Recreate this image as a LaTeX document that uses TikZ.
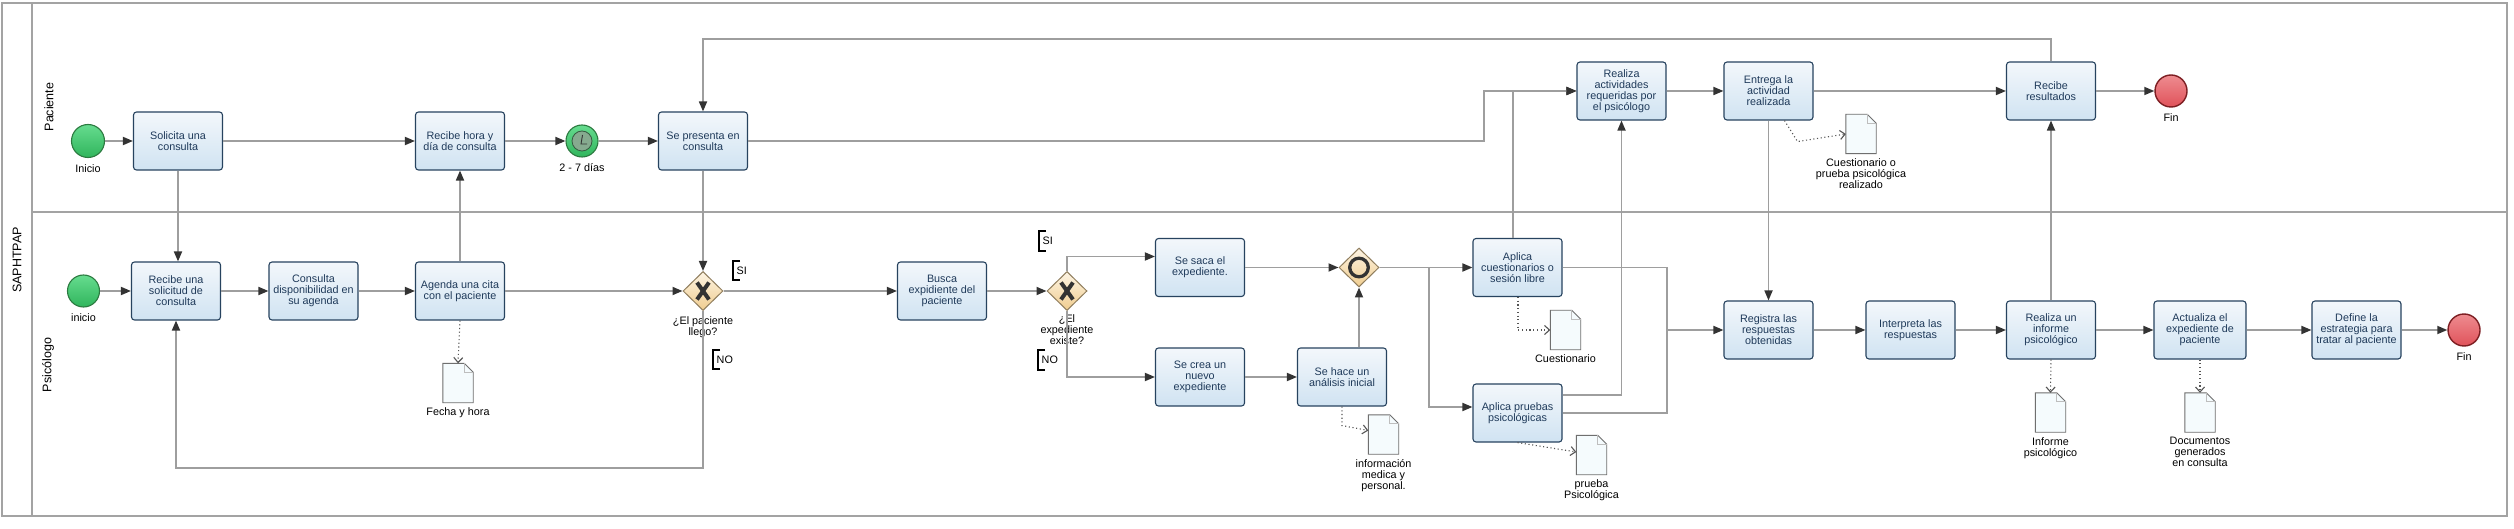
\documentclass[tikz,border=0pt]{standalone}
\usepackage{fontspec}
\setmainfont{Liberation Sans}
\usetikzlibrary{arrows.meta,shapes.geometric}
\definecolor{taskborder}{HTML}{27435F}
\definecolor{tasktext}{HTML}{1F3A5A}
\definecolor{tasktop}{HTML}{F3F7FB}
\definecolor{taskbot}{HTML}{D0E3F2}
\definecolor{starttop}{HTML}{66DC8F}
\definecolor{startbot}{HTML}{30B55C}
\definecolor{startborder}{HTML}{2C7A40}
\definecolor{endtop}{HTML}{EE8C90}
\definecolor{endbot}{HTML}{E0525A}
\definecolor{endborder}{HTML}{7D1E22}
\definecolor{gatetop}{HTML}{FDF4E4}
\definecolor{gatebot}{HTML}{F0CD8F}
\definecolor{gateborder}{HTML}{8F7D5D}
\definecolor{flowgray}{HTML}{9E9E9E}
\definecolor{tipgray}{HTML}{333333}
\definecolor{assocgray}{HTML}{555555}
\definecolor{docfill}{HTML}{F5FBFD}
\definecolor{docborder}{HTML}{6F6F6F}
\definecolor{poolgray}{HTML}{A3A3A3}
\definecolor{clockborder}{HTML}{365B41}
\definecolor{clockfill}{HTML}{86AA8F}
\begin{document}
\begin{tikzpicture}[x=1pt,y=-1pt,
  task/.style={rectangle, rounded corners=3pt, draw=taskborder, line width=1.1pt,
    top color=tasktop, bottom color=taskbot, minimum width=89pt, minimum height=58pt,
    inner sep=1pt, align=center, text=tasktext, font=\fontsize{10.8}{11}\selectfont},
  startev/.style={circle, draw=startborder, line width=1.1pt, top color=starttop,
    bottom color=startbot, minimum size=33pt, inner sep=0pt},
  endev/.style={circle, draw=endborder, line width=1.4pt, top color=endtop,
    bottom color=endbot, minimum size=32pt, inner sep=0pt},
  gate/.style={diamond, draw=gateborder, line width=1pt, top color=gatetop,
    bottom color=gatebot, minimum width=40pt, minimum height=39pt, inner sep=0pt},
  docbox/.style={rectangle, minimum width=30pt, minimum height=39pt, inner sep=0pt},
  docline/.style={draw=docborder, fill=docfill, line width=0.9pt},
  foldline/.style={draw=docborder!45, line width=0.9pt},
  lbl/.style={font=\fontsize{10.8}{11}\selectfont, align=center, inner sep=0pt, text=black},
  annot/.style={font=\fontsize{10.8}{11}\selectfont, inner xsep=3.5pt, inner ysep=0pt,
    minimum height=19pt, anchor=west},
  flow/.style={draw=flowgray, line width=1.7pt, -{Triangle[length=10pt,width=8pt,color=tipgray]}},
  plainflow/.style={draw=flowgray, line width=1.7pt},
  assoc/.style={draw=assocgray, line width=1.1pt, dash pattern=on 1.1pt off 2.6pt,
    -{Straight Barb[length=5pt,width=9pt]}},
  bracket/.style={draw=black, line width=1.8pt},
  lanelabel/.style={font=\fontsize{12.5}{13}\selectfont, inner sep=0pt},
  pool/.style={draw=poolgray, line width=1.4pt},
  xmark/.style={draw=tipgray, line width=4pt},
]
\useasboundingbox (0,0) rectangle (2514,529);
\fill[white] (0,0) rectangle (2514,529);

% pool and lanes
\draw[pool] (2,3) rectangle (2507,516);
\draw[pool] (32,3) -- (32,516);
\draw[pool] (32,212) -- (2507,212);
\node[lanelabel, rotate=90] (poolname) at (17,260) {SAPHTPAP};
\node[lanelabel, rotate=90] (lane1) at (49,107) {Paciente};
\node[lanelabel, rotate=90] (lane2) at (48,365) {Psicólogo};

% Paciente lane
\node[startev] (sP) at (88,141) {};
\node[task] (sol) at (178,141) {Solicita una\\consulta};
\node[task] (rho) at (460,141) {Recibe hora y\\día de consulta};
\node[startev, minimum size=32pt] (tim) at (582,141) {};
\node[task] (spr) at (703,141) {Se presenta en\\consulta};
\node[task] (real) at (1621.5,91) {Realiza\\actividades\\requeridas por\\el psicólogo};
\node[task] (ent) at (1768.5,91) {Entrega la\\actividad\\realizada};
\node[task] (rres) at (2051,91) {Recibe\\resultados};
\node[endev] (fin1) at (2171,91) {};

% Psicologo lane
\node[startev, minimum size=32pt] (sPs) at (83.5,291) {};
\node[task] (rsol) at (176,291) {Recibe una\\solicitud de\\consulta};
\node[task] (cdis) at (313.5,291) {Consulta\\disponibilidad en\\su agenda};
\node[task] (age) at (460,291) {Agenda una cita\\con el paciente};
\node[gate] (gw1) at (703,291) {};
\node[task] (bus) at (942,291) {Busca\\expidiente del\\paciente};
\node[gate] (gw2) at (1067,291) {};
\node[task] (ssa) at (1200,267.5) {Se saca el\\expediente.};
\node[task] (scr) at (1200,377) {Se crea un\\nuevo\\expediente};
\node[gate] (gw3) at (1359,267.5) {};
\node[task] (sha) at (1342,377) {Se hace un\\análisis inicial};
\node[task] (acu) at (1517.5,267.5) {Aplica\\cuestionarios o\\sesión libre};
\node[task] (apr) at (1517.5,413) {Aplica pruebas\\psicológicas};
\node[task] (reg) at (1768.5,330) {Registra las\\respuestas\\obtenidas};
\node[task] (inte) at (1910.5,330) {Interpreta las\\respuestas};
\node[task] (rinf) at (2051,330) {Realiza un\\informe\\psicológico};
\node[task, minimum width=92pt] (act) at (2200,330) {Actualiza el\\expediente de\\paciente};
\node[task] (def) at (2356.5,330) {Define la\\estrategia para\\tratar al paciente};
\node[endev] (fin2) at (2464,330) {};

% markers
\draw[draw=clockborder, fill=clockfill, line width=0.8pt] (tim.center) circle[radius=10pt];
\draw[draw=tipgray, line width=0.9pt] ([shift={(0.5pt,6pt)}]tim.center) -- ([shift={(-1pt,-3pt)}]tim.center) -- ([shift={(5pt,-3pt)}]tim.center);
\foreach \g in {gw1,gw2} {
  \draw[xmark] ([shift={(-6pt,8.5pt)}]\g.center) -- ([shift={(6pt,-8.5pt)}]\g.center);
  \draw[xmark] ([shift={(6pt,8.5pt)}]\g.center) -- ([shift={(-6pt,-8.5pt)}]\g.center);
}
\draw[draw=tipgray, line width=3.3pt] (gw3.center) circle[radius=9.3pt];

% event labels
\node[lbl, anchor=north] (sPl) at ([yshift=-6pt]sP.south) {Inicio};
\node[lbl, anchor=north] (timl) at ([yshift=-6pt]tim.south) {2 - 7 días};
\node[lbl, anchor=north] (fin1l) at ([yshift=-6pt]fin1.south) {Fin};
\node[lbl, anchor=north] (sPsl) at ([yshift=-6pt]sPs.south) {inicio};
\node[lbl, anchor=north] (fin2l) at ([yshift=-6pt]fin2.south) {Fin};
\node[lbl, anchor=north] (gw1l) at ([yshift=-5pt]gw1.south) {¿El paciente\\llego?};
\node[lbl, anchor=north] (gw2l) at ([yshift=-3pt]gw2.south) {¿El\\expediente\\existe?};

% data objects
\node[docbox] (d1) at (458,383) {};
\node[docbox] (d2) at (1383.5,434.5) {};
\node[docbox] (d3) at (1565.5,330) {};
\node[docbox] (d4) at (1591.5,455) {};
\node[docbox] (d5) at (1861,134) {};
\node[docbox] (d6) at (2050.5,412.5) {};
\node[docbox] (d7) at (2200,412.5) {};
\foreach \dn in {d1,d2,d3,d4,d5,d6,d7} {
  \draw[docline] (\dn.north west) -- ([xshift=-9pt]\dn.north east) -- ([yshift=-9pt]\dn.north east)
     -- (\dn.south east) -- (\dn.south west) -- cycle;
  \draw[foldline] ([xshift=-9pt]\dn.north east) |- ([yshift=-9pt]\dn.north east);
}
\node[lbl, anchor=north] (d1l) at ([yshift=-5pt]d1.south) {Fecha y hora};
\node[lbl, anchor=north] (d2l) at ([yshift=-5pt]d2.south) {información\\medica y\\personal.};
\node[lbl, anchor=north] (d3l) at ([yshift=-5pt]d3.south) {Cuestionario};
\node[lbl, anchor=north] (d4l) at ([yshift=-5pt]d4.south) {prueba\\Psicológica};
\node[lbl, anchor=north] (d5l) at ([yshift=-5pt]d5.south) {Cuestionario o\\prueba psicológica\\realizado};
\node[lbl, anchor=north] (d6l) at ([yshift=-5pt]d6.south) {Informe\\psicológico};
\node[lbl, anchor=north] (d7l) at ([yshift=-5pt]d7.south) {Documentos\\generados\\en consulta};

% annotations
\node[annot] (si1) at (733,270.5) {SI};
\node[annot] (no1) at (713,359.5) {NO};
\node[annot] (si2) at (1039,241) {SI};
\node[annot] (no2) at (1038,360) {NO};
\foreach \a in {si1,no1,si2,no2} {
  \draw[bracket] ([xshift=7pt]\a.north west) -- (\a.north west) -- (\a.south west) -- ([xshift=7pt]\a.south west);
}

% sequence flows
\draw[flow] (sP) -- (sol);
\draw[flow] (sol) -- (rho);
\draw[flow] (rho) -- (tim);
\draw[flow] (tim) -- (spr);
\draw[flow] (sol.south) -- (sol.south |- rsol.north);
\draw[flow] (age.north) -- (rho.south);
\draw[flow] (spr.south) -- (gw1.north);
\draw[flow] (sPs) -- (rsol);
\draw[flow] (rsol) -- (cdis);
\draw[flow] (cdis) -- (age);
\draw[flow] (age) -- (gw1);
\draw[flow] (gw1) -- (bus);
\draw[flow] (bus) -- (gw2);
\coordinate (noloop) at (703,468);
\draw[flow] (gw1.south) -- (noloop) -| (rsol.south);
\draw[flow] (gw2.north) |- ([yshift=11pt]ssa.west);
\draw[flow] (gw2.south) |- (scr.west);
\draw[flow] (ssa) -- (gw3);
\draw[flow] (scr) -- (sha);
\draw[flow] (gw3.south |- sha.north) -- (gw3.south);
\draw[flow] (gw3) -- (acu);
\coordinate (split) at (1429,267.5);
\draw[flow] (split) |- ([yshift=6pt]apr.west);
\coordinate (bendA) at (1484,141);
\draw[flow] (spr.east) -- (bendA) |- (real.west);
\draw[flow] ([xshift=-4.5pt]acu.north) |- (real.west);
\draw[flow] ([yshift=18pt]apr.east) -| (real.south);
\coordinate (joinR) at (1667,330);
\draw[flow] (acu.east) -| (joinR) -- (reg.west);
\draw[plainflow] (apr.east) -| (joinR);
\draw[flow] (real) -- (ent);
\draw[flow] (ent) -- (rres);
\draw[flow] (rres) -- (fin1);
\draw[flow] (ent.south) -- (reg.north);
\draw[flow] (reg) -- (inte);
\draw[flow] (inte) -- (rinf);
\draw[flow] (rinf) -- (act);
\draw[flow] (act) -- (def);
\draw[flow] (def) -- (fin2);
\draw[flow] (rinf.north) -- (rres.south);
\coordinate (topR) at (2051,39);
\coordinate (topL) at (703,39);
\draw[flow] (rres.north) -- (topR) -- (topL) -- (spr.north);

% associations
\draw[assoc] (age.south) -- (d1.north);
\draw[assoc] (sha.south) -- ([yshift=-19pt]sha.south) -- ([yshift=4pt]d2.west);
\draw[assoc] ([xshift=0.5pt]acu.south) |- (d3.west);
\draw[assoc] (apr.south) -- ([yshift=3pt]d4.west);
\draw[assoc] ([xshift=16pt]ent.south) -- ([xshift=29pt,yshift=-21pt]ent.south) -- (d5.west);
\draw[assoc] (rinf.south) -- (d6.north);
\draw[assoc] (act.south) -- (d7.north);
\end{tikzpicture}
\end{document}
